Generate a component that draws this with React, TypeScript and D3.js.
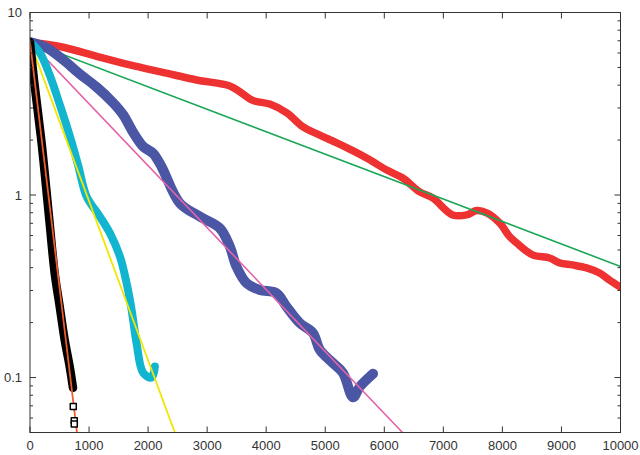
import React from 'react';
import * as d3 from 'd3';

// series: [x, y]
const redSeries: [number, number][] = [
  [0, 6.89], [563, 6.45], [1130, 5.75], [1692, 5.16], [2250, 4.7], [2820, 4.27],
  [3384, 3.96], [3553, 3.68], [3773, 3.3], [4061, 3.15], [4349, 2.82], [4619, 2.37],
  [4907, 2.13], [5195, 1.93], [5465, 1.75], [5753, 1.56], [6041, 1.37], [6311, 1.24],
  [6599, 1.04], [6819, 0.964], [7157, 0.778], [7394, 0.778], [7563, 0.822], [7733, 0.798],
  [7953, 0.703], [8122, 0.592], [8240, 0.547], [8511, 0.47], [8799, 0.452], [8968, 0.425],
  [9188, 0.414], [9425, 0.399], [9645, 0.374], [9814, 0.342], [10000, 0.313],
];
const blueSeries: [number, number][] = [
  [0, 6.89], [283, 6.4], [563, 5.5], [846, 4.6], [1129, 3.9], [1409, 3.2],
  [1579, 2.75], [1748, 2.2], [1917, 1.84], [2086, 1.69], [2228, 1.43], [2538, 0.902],
  [2876, 0.762], [3215, 0.658], [3384, 0.522], [3497, 0.405], [3667, 0.329], [3892, 0.302],
  [4174, 0.29], [4343, 0.245], [4569, 0.199], [4794, 0.175], [4907, 0.142], [5132, 0.12],
  [5301, 0.106], [5470, 0.078], [5584, 0.089], [5753, 0.101], [5809, 0.105],
];
const cyanSeries: [number, number][] = [
  [0, 6.89], [169, 6.0], [338, 4.5], [508, 3.1], [677, 2.09], [817, 1.45],
  [959, 0.98], [1184, 0.762], [1354, 0.618], [1523, 0.46], [1636, 0.329], [1721, 0.235],
  [1805, 0.154], [1917, 0.106], [2059, 0.1], [2115, 0.115],
];
const blackSeries: [number, number][] = [
  [0, 6.89], [68, 4.27], [191, 2.0], [249, 1.32], [333, 0.7], [418, 0.373],
  [503, 0.245], [587, 0.161], [672, 0.115], [728, 0.0878],
];
const blackOutliers: [number, number][] = [[733, 0.0694], [750, 0.058], [750, 0.0556]];

// fitted exponential lines (start and end)
const greenFit: [number, number][] = [[0, 6.9], [10000, 0.406]];
const pinkFit: [number, number][] = [[0, 6.9], [6308, 0.05]];
const yellowFit: [number, number][] = [[0, 6.9], [2453, 0.05]];
const orangeFit: [number, number][] = [[0, 6.9], [795, 0.05]];

const xTicks = [0, 1000, 2000, 3000, 4000, 5000, 6000, 7000, 8000, 9000, 10000];
const yMajor = [0.1, 1, 10];
const yMinor = [0.06, 0.07, 0.08, 0.09, 0.2, 0.3, 0.4, 0.5, 0.6, 0.7, 0.8, 0.9, 2, 3, 4, 5, 6, 7, 8, 9];

const W = 640;
const H = 455;
const left = 30;
const right = 620.5;
const top = 12.5;
const bottom = 432.5;

const App = () => {
  const x = d3.scaleLinear().domain([0, 10000]).range([left, right]);
  const y = d3.scaleLog().domain([0.05, 10]).range([bottom, top]);

  const smooth = d3
    .line<[number, number]>()
    .x(d => x(d[0]))
    .y(d => y(d[1]))
    .curve(d3.curveCatmullRom.alpha(0.5));
  const straight = d3
    .line<[number, number]>()
    .x(d => x(d[0]))
    .y(d => y(d[1]));

  const font = '"Liberation Sans", Arial, sans-serif';
  const axisColor = '#333';

  return (
    <svg width={W} height={H} style={{ position: 'absolute', left: 0, top: 0 }}>
      <defs>
        <clipPath id="plot">
          <rect x={left} y={top} width={right - left} height={bottom - top} />
        </clipPath>
      </defs>
      <rect width={W} height={H} fill="#fff" />

      <g clipPath="url(#plot)" fill="none" strokeLinejoin="round" strokeLinecap="round">
        <path d={smooth(redSeries) || ''} stroke="#ee3131" strokeWidth={7.5} />
        <path d={straight(greenFit) || ''} stroke="#1aa857" strokeWidth={1.6} />
        <path d={smooth(blueSeries) || ''} stroke="#4b56a5" strokeWidth={10} />
        <path d={straight(pinkFit) || ''} stroke="#e563a8" strokeWidth={1.6} />
        <path d={smooth(cyanSeries) || ''} stroke="#12b5cf" strokeWidth={8} />
        <path d={straight(yellowFit) || ''} stroke="#f2e600" strokeWidth={1.8} />
        <path d={smooth(blackSeries) || ''} stroke="#000" strokeWidth={8.5} />
        <path d={straight(orangeFit) || ''} stroke="#f15a2a" strokeWidth={1.8} />
        {blackOutliers.map((d, i) => (
          <rect
            key={i}
            x={x(d[0]) - 3}
            y={y(d[1]) - 3}
            width={6}
            height={6}
            fill="#fff"
            stroke="#000"
            strokeWidth={1.5}
          />
        ))}
      </g>

      {/* frame */}
      <rect
        x={left}
        y={top}
        width={right - left}
        height={bottom - top}
        fill="none"
        stroke={axisColor}
        strokeWidth={1}
      />

      {/* x ticks, mirrored on top */}
      {xTicks.map(t => (
        <g key={'x' + t}>
          <line x1={x(t)} x2={x(t)} y1={bottom} y2={bottom - 6} stroke={axisColor} />
          <line x1={x(t)} x2={x(t)} y1={top} y2={top + 6} stroke={axisColor} />
          <text
            x={x(t)}
            y={450}
            textAnchor="middle"
            fontFamily={font}
            fontSize={13}
            fill="#333"
          >
            {t}
          </text>
        </g>
      ))}

      {/* y ticks, mirrored on right */}
      {yMajor.map(t => (
        <g key={'y' + t}>
          <line x1={left} x2={left + 6} y1={y(t)} y2={y(t)} stroke={axisColor} />
          <line x1={right} x2={right - 6} y1={y(t)} y2={y(t)} stroke={axisColor} />
          <text
            x={22}
            y={y(t)}
            dy="0.35em"
            textAnchor="end"
            fontFamily={font}
            fontSize={13}
            fill="#333"
          >
            {t}
          </text>
        </g>
      ))}
      {yMinor.map(t => (
        <g key={'m' + t}>
          <line x1={left} x2={left + 3} y1={y(t)} y2={y(t)} stroke={axisColor} />
          <line x1={right} x2={right - 3} y1={y(t)} y2={y(t)} stroke={axisColor} />
        </g>
      ))}
    </svg>
  );
};

export default App;
